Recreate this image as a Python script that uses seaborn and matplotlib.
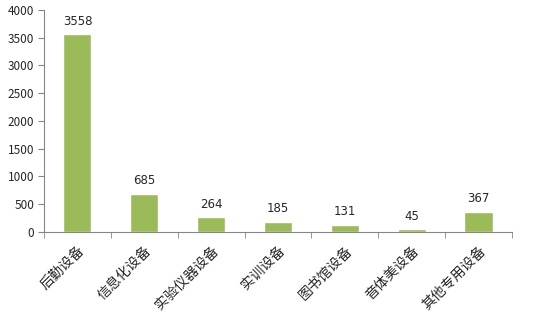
import matplotlib
matplotlib.use("Agg")
import matplotlib.pyplot as plt
import seaborn as sns
import pandas as pd

categories = ["后勤设备", "信息化设备", "实验仪器设备", "实训设备", "图书馆设备", "音体美设备", "其他专用设备"]
values = [3558, 685, 264, 185, 131, 45, 367]

sns.set_style("white")
plt.rcParams['font.family'] = ['Noto Sans CJK SC', 'DejaVu Sans']

df = pd.DataFrame({"cat": categories, "val": values})
fig = plt.figure(figsize=(5.46, 3.15), dpi=100)
ax = fig.add_axes([0.0806, 0.2635, 0.857, 0.705])
sns.barplot(data=df, x="cat", y="val", color="#9BBB59", width=0.42, ax=ax, saturation=1)

ax.set_ylim(0, 4000)
ax.set_yticks(range(0, 4001, 500))
ax.set_xlim(-0.5, len(categories) - 0.5)
ax.set_xlabel("")
ax.set_ylabel("")
for s in ["top", "right"]:
    ax.spines[s].set_visible(False)
for s in ["left", "bottom"]:
    ax.spines[s].set_color("#868686")
    ax.spines[s].set_linewidth(0.8)

ax.tick_params(axis="y", direction="out", length=4, color="#868686", labelsize=8.5, pad=3, left=True)
ax.set_xticks(range(len(categories)))
ax.set_xticklabels(categories, rotation=45, ha="right", rotation_mode="anchor", fontsize=10)
ax.tick_params(axis="x", length=0, pad=8)
ax.set_xticks([i - 0.5 for i in range(len(categories) + 1)], minor=True)
ax.tick_params(axis="x", which="minor", direction="out", length=4, color="#868686", bottom=True)

for i, v in enumerate(values):
    ax.text(i, v + 120, str(v), ha="center", va="bottom", fontsize=8.5, family="DejaVu Sans")

fig.savefig("out.png", dpi=100)
